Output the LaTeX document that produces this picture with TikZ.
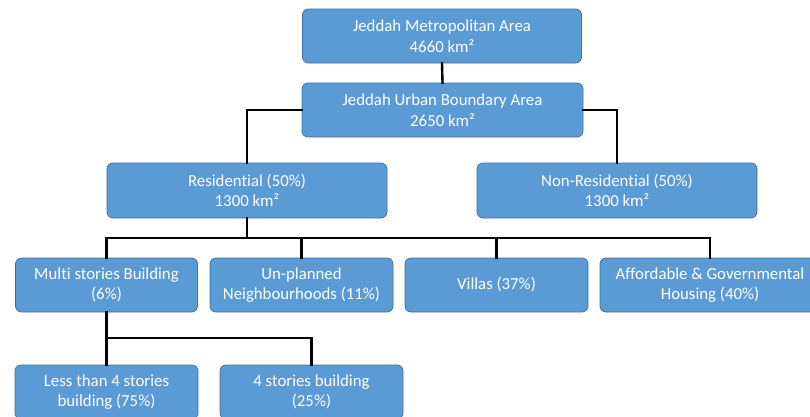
\documentclass[tikz,border=0pt]{standalone}
\usepackage{fontspec}
\setmainfont{Carlito}[Ligatures=NoCommon]
\definecolor{boxfill}{HTML}{5B9BD5}
\definecolor{boxline}{HTML}{41719C}

\begin{document}
\begin{tikzpicture}[x=1pt,y=-1pt,
  areabox/.style={draw=boxline,line width=.8pt,fill=boxfill,rounded corners=6pt,text=white,align=center,inner sep=0pt,minimum height=54pt,font=\fontsize{16.8}{20.5}\selectfont},
  link/.style={line width=2.4pt,line cap=rect}]
\clip (0,0) rectangle (810,416);
\node[areabox,minimum width=279pt] (metro) at (442,36) {Jeddah Metropolitan Area\\4660 km²};
\node[areabox,minimum width=281pt] (urban) at (442.5,110) {Jeddah Urban Boundary Area\\2650 km²};
\node[areabox,minimum width=280pt,minimum height=55pt] (resid) at (247,190.5) {Residential (50\%)\\1300 km²};
\node[areabox,minimum width=280pt,minimum height=55pt] (nonres) at (617,190.5) {Non-Residential (50\%)\\1300 km²};
\node[areabox,minimum width=182pt] (multi) at (106.5,285) {Multi stories Building\\(6\%)};
\node[areabox,minimum width=183pt] (unplan) at (301.5,285) {Un-planned\\Neighbourhoods (11\%)};
\node[areabox,minimum width=183pt] (villas) at (496.5,285) {Villas (37\%)};
\node[areabox,minimum width=220pt] (afford) at (710,285) {Affordable \& Governmental\\Housing (40\%)};
\node[areabox,minimum width=183pt] (less) at (106.5,392) {Less than 4 stories\\building (75\%)};
\node[areabox,minimum width=183pt] (four) at (311.5,392) {4 stories building\\(25\%)};
\coordinate (rbus) at (247,238);
\coordinate (mbus) at (106.5,338);
\draw[link] (metro.south) -- (urban.north);
\draw[link] (urban.west) -| (resid.north);
\draw[link] (urban.east) -| (nonres.north);
\draw[link] (resid.south) -- (rbus);
\draw[link] (multi.north) |- (rbus) -| (afford.north);
\draw[link] (unplan.north) -- (unplan.north |- rbus);
\draw[link] (villas.north) -- (villas.north |- rbus);
\draw[link] (multi.south) -- (mbus);
\draw[link] (less.north) -- (mbus) -| (four.north);
\end{tikzpicture}
\end{document}
